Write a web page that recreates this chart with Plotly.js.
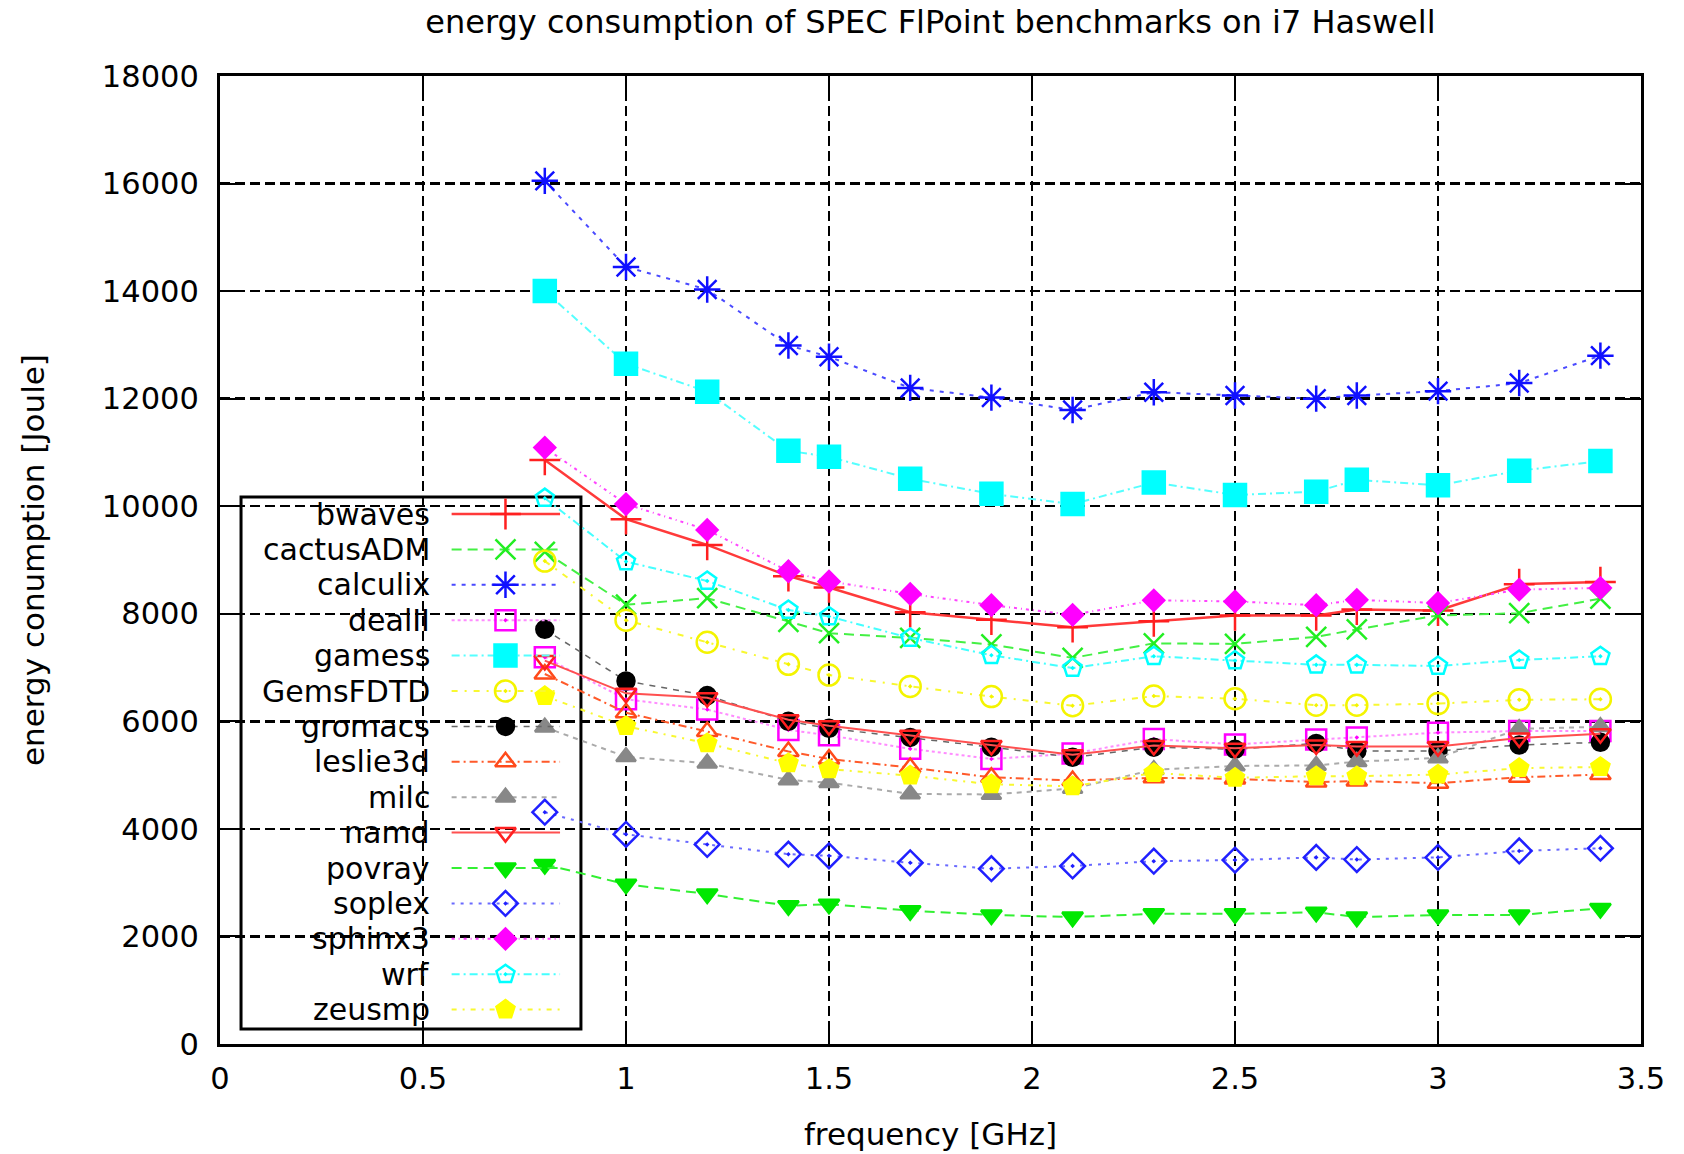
<!DOCTYPE html>
<html>
<head>
<meta charset="utf-8">
<script src="https://cdn.plot.ly/plotly-3.0.1.min.js"></script>
<style>
  html, body { margin: 0; padding: 0; background: #fff; }
  #chart { width: 1684px; height: 1154px; }
</style>
</head>
<body>
<div id="chart"></div>
<script>
// CPU frequency settings (GHz)
const frequencies = [0.8, 1.0, 1.2, 1.4, 1.5, 1.7, 1.9, 2.1, 2.3, 2.5, 2.7, 2.8, 3.0, 3.2, 3.4];

// Energy per benchmark run (Joule) at each frequency
const bwaves    = [10860, 9760, 9280, 8700, 8490, 8030, 7890, 7750, 7860, 7970, 7970, 8080, 8060, 8550, 8590];
const cactusADM = [9150, 8170, 8290, 7850, 7640, 7550, 7430, 7180, 7450, 7440, 7570, 7710, 7970, 8010, 8280];
const calculix  = [16050, 14450, 14030, 12990, 12780, 12200, 12020, 11790, 12120, 12060, 12000, 12060, 12140, 12290, 12800];
const dealII    = [7190, 6410, 6220, 5840, 5740, 5490, 5300, 5400, 5670, 5570, 5660, 5700, 5790, 5820, 5820];
const gamess    = [14000, 12650, 12130, 11030, 10920, 10510, 10230, 10040, 10440, 10210, 10270, 10490, 10390, 10660, 10840];
const GemsFDTD  = [8980, 7880, 7470, 7060, 6860, 6650, 6460, 6290, 6470, 6420, 6300, 6300, 6330, 6400, 6410];
const gromacs   = [7710, 6750, 6480, 6000, 5870, 5700, 5520, 5330, 5520, 5480, 5590, 5450, 5450, 5560, 5610];
const leslie3d  = [6880, 6160, 5810, 5440, 5300, 5140, 4960, 4900, 4950, 4930, 4870, 4890, 4850, 4960, 5010];
const milc      = [5890, 5340, 5220, 4910, 4860, 4650, 4640, 4750, 5100, 5170, 5180, 5250, 5320, 5860, 5900];
const namd      = [7130, 6520, 6440, 6030, 5920, 5740, 5550, 5380, 5550, 5500, 5560, 5530, 5530, 5690, 5770];
const povray    = [3340, 2970, 2790, 2570, 2600, 2480, 2400, 2360, 2420, 2420, 2450, 2360, 2400, 2400, 2520];
const soplex    = [4310, 3900, 3710, 3530, 3500, 3370, 3260, 3310, 3400, 3420, 3470, 3430, 3470, 3590, 3640];
const sphinx3   = [11090, 10040, 9560, 8790, 8600, 8370, 8160, 7980, 8250, 8230, 8160, 8260, 8200, 8450, 8480];
const wrf       = [10150, 8970, 8610, 8070, 7950, 7550, 7230, 6990, 7210, 7130, 7050, 7050, 7030, 7140, 7210];
const zeusmp    = [6470, 5910, 5590, 5220, 5110, 4990, 4830, 4790, 5040, 4950, 4980, 4980, 5010, 5130, 5150];

const seriesNames = ['bwaves', 'cactusADM', 'calculix', 'dealII', 'gamess', 'GemsFDTD', 'gromacs',
                     'leslie3d', 'milc', 'namd', 'povray', 'soplex', 'sphinx3', 'wrf', 'zeusmp'];
const seriesValues = [bwaves, cactusADM, calculix, dealII, gamess, GemsFDTD, gromacs,
                      leslie3d, milc, namd, povray, soplex, sphinx3, wrf, zeusmp];

// Axis ticks
const xTickVals = [0, 0.5, 1, 1.5, 2, 2.5, 3, 3.5];
const xTickText = ['0', '0.5', '1', '1.5', '2', '2.5', '3', '3.5'];
const yTickVals = [0, 2000, 4000, 6000, 8000, 10000, 12000, 14000, 16000, 18000];

// Per-series look: line colour/dash and point symbol
const seriesStyle = {
  bwaves:    { color: '#ff2020', line: '#ff3a3a', dash: 'solid',             symbol: 'cross-thin-open',       size: 22, lw: 2.5 },
  cactusADM: { color: '#22ee22', line: '#44f044', dash: '10px,6px',          symbol: 'x-thin-open',           size: 20, lw: 2 },
  calculix:  { color: '#1010ff', line: '#4a4aff', dash: '4px,6px',           symbol: 'asterisk-open',         size: 22, lw: 2 },
  dealII:    { color: '#ff00ff', line: '#ff8cff', dash: '3px,3px',           symbol: 'square-open-dot',       size: 20, lw: 2 },
  gamess:    { color: '#00ffff', line: '#55ffff', dash: '8px,4px,2px,4px',   symbol: 'square',                size: 22, lw: 2 },
  GemsFDTD:  { color: '#f4f400', line: '#f8f830', dash: '6px,7px,2px,7px',   symbol: 'circle-open-dot',       size: 21, lw: 2 },
  gromacs:   { color: '#000000', line: '#666666', dash: '6px,6px',           symbol: 'circle',                size: 17, lw: 1.5 },
  leslie3d:  { color: '#ff4a1a', line: '#ff5a2a', dash: '8px,4px,2px,4px',   symbol: 'triangle-up-open',      size: 18, lw: 2 },
  milc:      { color: '#888888', line: '#aaaaaa', dash: '5px,5px',           symbol: 'triangle-up',           size: 17, lw: 2 },
  namd:      { color: '#ff2020', line: '#ff5050', dash: 'solid',             symbol: 'triangle-down-open',    size: 18, lw: 2 },
  povray:    { color: '#00e800', line: '#33f033', dash: '10px,6px',          symbol: 'triangle-down',         size: 18, lw: 2 },
  soplex:    { color: '#2020ff', line: '#6a6aff', dash: '3px,6px',           symbol: 'diamond-open-dot',      size: 19, lw: 2 },
  sphinx3:   { color: '#ff00ff', line: '#ff44ff', dash: '3px,4px,1px,4px',   symbol: 'diamond',               size: 16, lw: 2 },
  wrf:       { color: '#00ffff', line: '#44ffff', dash: '8px,4px,2px,4px',   symbol: 'pentagon-open-dot',     size: 19, lw: 2 },
  zeusmp:    { color: '#ffff00', line: '#f8f830', dash: '5px,6px,2px,6px',   symbol: 'pentagon',              size: 19, lw: 2 }
};

const FONT = 'DejaVu Sans, Liberation Sans, sans-serif';

function markerFor(st) {
  return {
    symbol: st.symbol,
    size: st.size,
    color: st.color,
    line: { color: st.color, width: 2.5 }
  };
}

// Data traces
const traces = seriesNames.map((name, i) => {
  const st = seriesStyle[name];
  return {
    type: 'scatter',
    mode: 'lines+markers',
    name: name,
    x: frequencies,
    y: seriesValues[i],
    line: { color: st.line, width: st.lw, dash: st.dash },
    marker: markerFor(st),
    showlegend: false,
    hoverinfo: 'x+y+name'
  };
});

// Key box in the lower-left corner of the plot area (paper fractions)
const KEY = { x0: 0.0148, x1: 0.254, yTop: 0.565, yBottom: 0.0155,
              firstRow: 0.5475, rowStep: 0.03657,
              textRight: 0.1492, lineStart: 0.163, lineEnd: 0.2393, markX: 0.2009 };

const keyAnnotations = [];
seriesNames.forEach((name, i) => {
  const st = seriesStyle[name];
  const yRow = KEY.firstRow - i * KEY.rowStep;
  traces.push({
    type: 'scatter', mode: 'lines', xaxis: 'x2', yaxis: 'y2',
    x: [KEY.lineStart, KEY.lineEnd], y: [yRow, yRow],
    line: { color: st.line, width: st.lw, dash: st.dash },
    showlegend: false, hoverinfo: 'skip'
  });
  traces.push({
    type: 'scatter', mode: 'markers', xaxis: 'x2', yaxis: 'y2',
    x: [KEY.markX], y: [yRow],
    marker: markerFor(st),
    showlegend: false, hoverinfo: 'skip'
  });
  keyAnnotations.push({
    xref: 'paper', yref: 'paper', x: KEY.textRight, y: yRow,
    xanchor: 'right', yanchor: 'middle', showarrow: false,
    text: name, font: { family: FONT, size: 30, color: '#000' }
  });
});

const gridDash = '10px,5px';

const layout = {
  width: 1684,
  height: 1154,
  margin: { l: 220, r: 43, t: 76, b: 110 },
  paper_bgcolor: '#ffffff',
  plot_bgcolor: '#ffffff',
  showlegend: false,
  font: { family: FONT, size: 30.5, color: '#000' },
  title: {
    text: 'energy consumption of SPEC FlPoint benchmarks on i7 Haswell',
    font: { family: FONT, size: 32, color: '#000' },
    x: 0.5525, xanchor: 'center',
    y: 0.981, yanchor: 'middle', yref: 'container'
  },
  xaxis: {
    range: [0, 3.5],
    tickvals: xTickVals,
    ticktext: xTickText,
    ticks: 'inside', ticklen: 16, tickwidth: 2, tickcolor: '#000',
    ticklabelstandoff: 5,
    showline: true, linecolor: '#000', linewidth: 3, mirror: 'ticks',
    showgrid: true, gridcolor: '#000', gridwidth: 2.5, griddash: gridDash,
    zeroline: false,
    tickfont: { family: FONT, size: 30.5, color: '#000' },
    title: { text: 'frequency [GHz]', font: { family: FONT, size: 31, color: '#000' }, standoff: 29 },
    automargin: false
  },
  yaxis: {
    range: [0, 18000],
    tickvals: yTickVals,
    tickformat: 'd',
    ticks: 'inside', ticklen: 16, tickwidth: 2, tickcolor: '#000',
    ticklabelstandoff: 12,
    showline: true, linecolor: '#000', linewidth: 3, mirror: 'ticks',
    showgrid: true, gridcolor: '#000', gridwidth: 2.5, griddash: gridDash,
    zeroline: false,
    tickfont: { family: FONT, size: 30.5, color: '#000' },
    title: { text: 'energy conumption [Joule]', font: { family: FONT, size: 31, color: '#000' }, standoff: 49 },
    automargin: false
  },
  xaxis2: { overlaying: 'x', anchor: 'y2', range: [0, 1], visible: false, fixedrange: true },
  yaxis2: { overlaying: 'y', anchor: 'x2', range: [0, 1], visible: false, fixedrange: true },
  shapes: [{
    type: 'rect', xref: 'paper', yref: 'paper',
    x0: KEY.x0, x1: KEY.x1, y0: KEY.yBottom, y1: KEY.yTop,
    line: { color: '#000', width: 3 },
    fillcolor: '#ffffff',
    layer: 'between'
  }],
  annotations: keyAnnotations
};

Plotly.newPlot('chart', traces, layout, { staticPlot: true, displayModeBar: false });
</script>
</body>
</html>
